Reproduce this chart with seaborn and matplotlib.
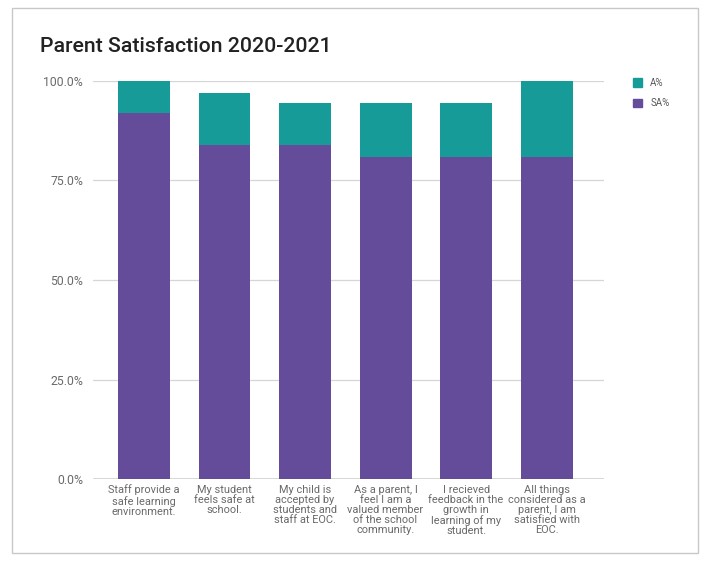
import matplotlib
matplotlib.use("Agg")
import matplotlib.pyplot as plt
import matplotlib.patches as mpatches
from matplotlib.ticker import FuncFormatter
import seaborn as sns
import pandas as pd

questions = [
    "Staff provide a\nsafe learning\nenvironment.",
    "My student\nfeels safe at\nschool.",
    "My child is\naccepted by\nstudents and\nstaff at EOC.",
    "As a parent, I\nfeel I am a\nvalued member\nof the school\ncommunity.",
    "I recieved\nfeedback in the\ngrowth in\nlearning of my\nstudent.",
    "All things\nconsidered as a\nparent, I am\nsatisfied with\nEOC.",
]
sa_pct = [92.0, 84.0, 84.0, 81.0, 81.0, 81.0]
a_pct = [8.0, 13.0, 10.5, 13.5, 13.5, 19.0]
series_names = ["A%", "SA%"]
y_ticks = [0, 25, 50, 75, 100]

teal = "#169b98"
purple = "#644c9b"

df = pd.DataFrame({"q": questions, "SA": sa_pct, "A": a_pct})
df["total"] = df["SA"] + df["A"]

sns.set_theme(style="white")
plt.rcParams["font.family"] = ["Roboto", "DejaVu Sans"]

fig = plt.figure(figsize=(7.07, 5.64), dpi=100)
ax = fig.add_axes([0.1315, 0.1507, 0.7225, 0.7057])

sns.barplot(data=df, x="q", y="total", color=teal, width=0.645, ax=ax,
            saturation=1, zorder=3, linewidth=0, edgecolor="none")
sns.barplot(data=df, x="q", y="SA", color=purple, width=0.645, ax=ax,
            saturation=1, zorder=4, linewidth=0, edgecolor="none")

ax.set_xlim(-0.633, 5.71)
ax.set_ylim(0, 100)
ax.set_yticks(y_ticks)
ax.yaxis.set_major_formatter(FuncFormatter(lambda v, p: f"{v:.1f}%"))
ax.grid(axis="y", color="#d6d6d6", linewidth=0.9, zorder=0)
ax.axhline(0, color="#555555", linewidth=1.0, zorder=5)
for s in ax.spines.values():
    s.set_visible(False)
ax.set_xlabel("")
ax.set_ylabel("")
ax.tick_params(axis="y", length=0, pad=7, labelsize=8.8, labelcolor="#6a6a6a")
ax.tick_params(axis="x", length=0, pad=4, labelsize=7.9, labelcolor="#6a6a6a")
for lbl in ax.get_xticklabels():
    lbl.set_linespacing(1.02)

fig.text(40 / 707, 1 - 47 / 564, "Parent Satisfaction 2020-2021",
         fontsize=15.3, fontweight="medium", color="#222222",
         va="center", ha="left")

handles = [mpatches.Patch(color=teal, label=series_names[0]),
           mpatches.Patch(color=purple, label=series_names[1])]
leg = fig.legend(handles=handles, loc="upper left",
                 bbox_to_anchor=(624 / 707, 1 - 69 / 564),
                 frameon=False, fontsize=7, handlelength=1.0, handleheight=1.0,
                 labelspacing=1.1, handletextpad=0.8, labelcolor="#555555")

border = mpatches.Rectangle((12 / 707, 1 - 553 / 564), (698 - 12) / 707,
                            (553 - 8) / 564, transform=fig.transFigure,
                            fill=False, edgecolor="#c8c8c8", linewidth=1.0)
fig.patches.append(border)

fig.savefig("out.png", dpi=100)
